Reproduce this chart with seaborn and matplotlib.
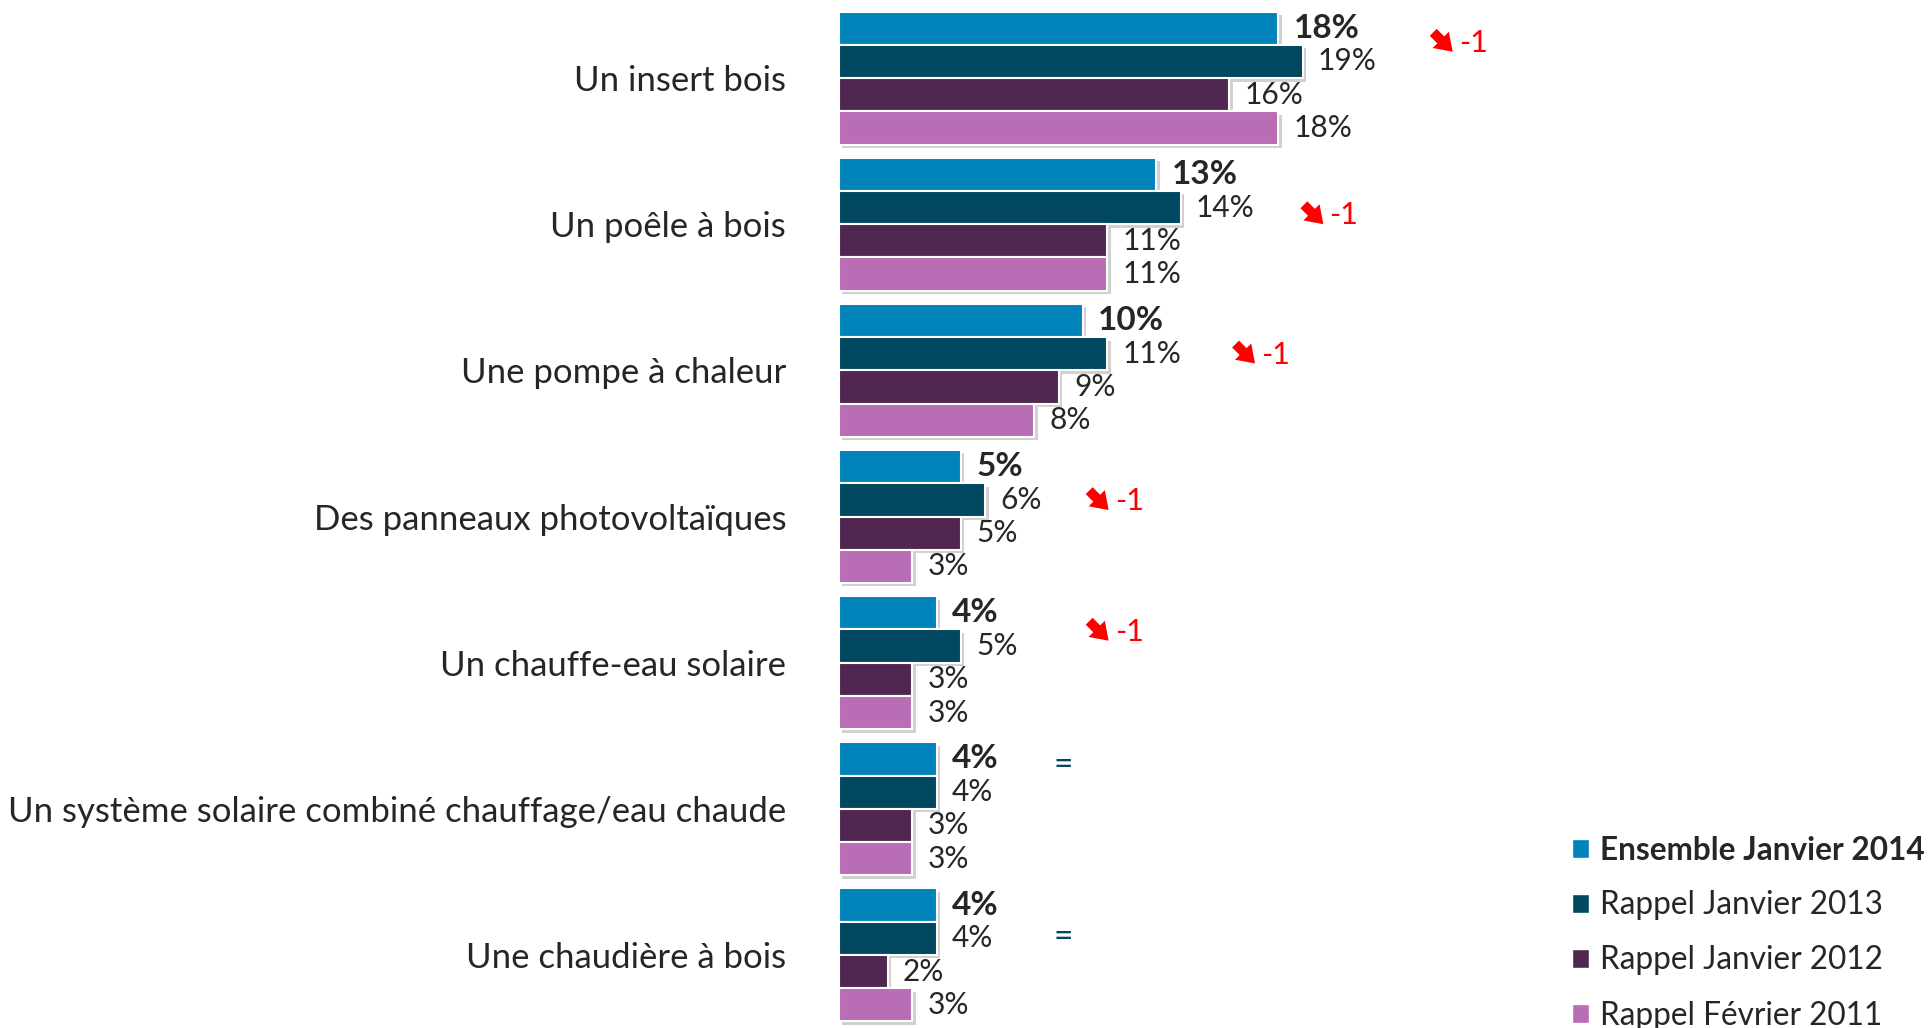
import matplotlib
matplotlib.use("Agg")
import matplotlib.pyplot as plt
import matplotlib.patheffects as pe
from matplotlib.patches import Patch
import seaborn as sns
import pandas as pd

# ---------------- data ----------------
categories = ["Un insert bois", "Un poêle à bois", "Une pompe à chaleur",
              "Des panneaux photovoltaïques", "Un chauffe-eau solaire",
              "Un système solaire combiné chauffage/eau chaude",
              "Une chaudière à bois"]
series_names = ["Ensemble Janvier 2014", "Rappel Janvier 2013",
                "Rappel Janvier 2012", "Rappel Février 2011"]
ens_2014 = [18, 13, 10, 5, 4, 4, 4]
rap_2013 = [19, 14, 11, 6, 5, 4, 4]
rap_2012 = [16, 11, 9, 5, 3, 3, 2]
rap_2011 = [18, 11, 8, 3, 3, 3, 3]
changes = ["-1", "-1", "-1", "-1", "-1", "=", "="]

# ---------------- style ----------------
colors = ["#0083BB", "#00475F", "#4F2750", "#B86DB5"]
FONT = ["Lato", "DejaVu Sans"]
sns.set_theme(style="white")
plt.rcParams["font.family"] = FONT
text_color = "#262626"

df = pd.DataFrame({
    "category": categories * 4,
    "series": sum([[s] * len(categories) for s in series_names], []),
    "value": ens_2014 + rap_2013 + rap_2012 + rap_2011,
})

fig = plt.figure(figsize=(19.32, 10.28), dpi=100)
ax = fig.add_axes([839 / 1932, 0.0, 1 - 839 / 1932, 1 - 5 / 1028])

sns.barplot(data=df, y="category", x="value", hue="series", orient="h",
            palette=colors, width=0.91, dodge=True, ax=ax, legend=False,
            edgecolor="white", linewidth=1.5, saturation=1)

shadow = [pe.SimplePatchShadow(offset=(2.5, -2.5), shadow_rgbFace="#9a9a9a", alpha=0.45),
          pe.Normal()]
for p in ax.patches:
    p.set_path_effects(shadow)

for i, cont in enumerate(ax.containers):
    ax.bar_label(cont, fmt="{:.0f}%", padding=11,
                 fontsize=24 if i == 0 else 21.5,
                 fontweight="bold" if i == 0 else "normal",
                 color=text_color)

ax.set_xlim(0, 1093 / 24.4)
ax.set_ylim(6.5, -0.5)
ax.set_xlabel("")
ax.set_ylabel("")
ax.set_xticks([])
ax.tick_params(axis="y", length=0, pad=38, labelsize=25, labelcolor=text_color)
for s in ax.spines.values():
    s.set_visible(False)

# change annotations (positions in data units)
ann_x = [24.3, 19.0, 16.2, 10.2, 10.2, 8.8, 8.8]
ann_dy = [-0.24, -0.06, -0.107, -0.104, -0.21, -0.30, -0.12]
for k, (c, x, dy) in enumerate(zip(changes, ann_x, ann_dy)):
    y = k + dy
    if c == "=":
        ax.text(x, y, "=", color="#00475F", fontsize=24,
                ha="left", va="center")
    else:
        ax.annotate("", xy=(x + 0.85, y + 0.06), xytext=(-14, 14),
                    textcoords="offset points", xycoords="data",
                    arrowprops=dict(arrowstyle="simple,head_length=0.55,head_width=0.75,tail_width=0.32",
                                    mutation_scale=22, color="#FF0000", lw=0,
                                    shrinkA=0, shrinkB=0))
        ax.text(x + 1.1, y, c, color="#FF0000", fontsize=22,
                ha="left", va="center")

handles = [Patch(facecolor=c, edgecolor="white") for c in colors]
leg = fig.legend(handles, series_names, loc="upper left",
                 bbox_to_anchor=(1572 / 1932, 1 - 836 / 1028),
                 frameon=False, fontsize=22.7, handlelength=0.55,
                 handleheight=0.55, handletextpad=0.35, labelspacing=0.8,
                 borderpad=0, borderaxespad=0)
for i, t in enumerate(leg.get_texts()):
    t.set_color(text_color)
    if i == 0:
        t.set_fontweight("bold")

fig.savefig("out.png", dpi=100)
